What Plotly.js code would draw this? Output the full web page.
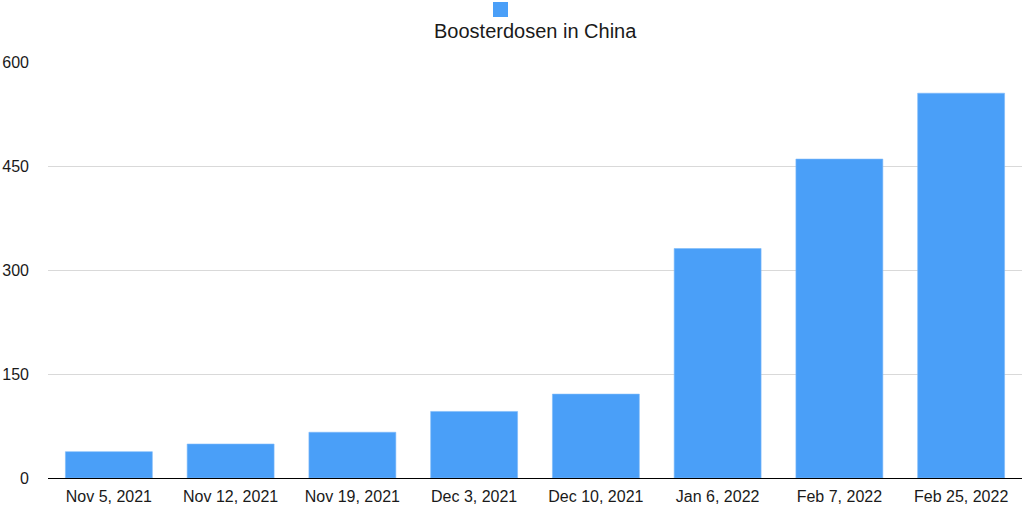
<!DOCTYPE html>
<html>
<head>
<meta charset="utf-8">
<script src="https://cdn.plot.ly/plotly-3.0.1.min.js"></script>
<style>html,body{margin:0;padding:0;background:#fff;}#chart{width:1024px;height:506px;}</style>
</head>
<body>
<div id="chart"></div>
<script>
const categories = ["Nov 5, 2021","Nov 12, 2021","Nov 19, 2021","Dec 3, 2021","Dec 10, 2021","Jan 6, 2022","Feb 7, 2022","Feb 25, 2022"];
const boosterValues = [38, 49, 66, 96, 121, 331, 460, 555];
const seriesName = "Boosterdosen in China";
const yTicks = [0, 150, 300, 450, 600];

const barColor = "#4A9FF8";
const font = "Liberation Sans, Arial, Helvetica, sans-serif";

Plotly.newPlot("chart", [{
  type: "bar",
  x: categories,
  y: boosterValues,
  name: seriesName,
  marker: {color: barColor, line: {color: "#7DBAFA", width: 0.6}},
  hoverinfo: "x+y",
  showlegend: false
}], {
  width: 1024, height: 506,
  margin: {l: 48, r: 2, t: 62, b: 28},
  paper_bgcolor: "#fff", plot_bgcolor: "#fff",
  font: {family: font, size: 16, color: "#1a1a1a"},
  bargap: 0.286,
  xaxis: {
    type: "category",
    showline: true, linecolor: "#000", linewidth: 1.2,
    ticks: "", showgrid: false,
    ticklabelstandoff: 4,
    tickfont: {family: font, size: 16, color: "#1a1a1a"}
  },
  yaxis: {
    range: [0, 600],
    tickvals: yTicks,
    ticktext: yTicks.map(String),
    gridcolor: "#d9d9d9", gridwidth: 1,
    zeroline: false, showline: false, ticks: "",
    ticklabelstandoff: 18,
    tickfont: {family: font, size: 16, color: "#1a1a1a"}
  },
  shapes: [{
    type: "rect", xref: "paper", yref: "paper",
    x0: (493 - 48) / 974, x1: (508 - 48) / 974,
    y0: 1 + (62 - 17) / 416, y1: 1 + (62 - 2) / 416,
    fillcolor: barColor, line: {width: 0}
  }],
  annotations: [{
    text: seriesName, showarrow: false,
    xref: "paper", yref: "paper",
    x: (535 - 48) / 974, y: 1 + (62 - 31) / 416,
    xanchor: "center", yanchor: "middle",
    font: {family: font, size: 20, color: "#1a1a1a"}
  }]
}, {displayModeBar: false});
</script>
</body>
</html>
